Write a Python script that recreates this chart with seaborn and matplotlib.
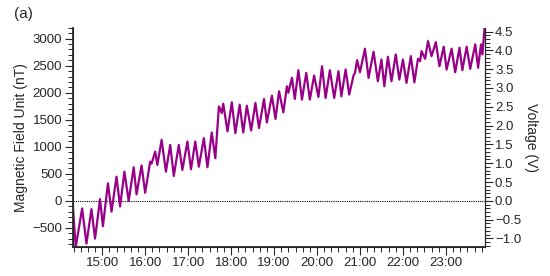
import numpy as np
import pandas as pd
import matplotlib
matplotlib.use("Agg")
import matplotlib.pyplot as plt
import matplotlib.dates as mdates
from matplotlib.ticker import MultipleLocator
import seaborn as sns

# ---- data (peaks / troughs) ----
times = ["14:19", "14:23", "14:32", "14:38", "14:45", "14:50", "14:57", "15:01", "15:08", "15:13",
         "15:20", "15:25", "15:31", "15:37", "15:44", "15:48", "15:55", "16:00", "16:07", "16:09",
         "16:14", "16:17", "16:23", "16:29", "16:35", "16:40", "16:47", "16:52", "16:59", "17:04",
         "17:10", "17:15", "17:22", "17:27", "17:33", "17:38", "17:43", "17:47", "17:49", "17:55",
         "18:01", "18:06", "18:12", "18:17", "18:22", "18:28", "18:34", "18:39", "18:46", "18:50",
         "18:57", "19:02", "19:07", "19:13", "19:18", "19:20", "19:25", "19:29", "19:34", "19:39",
         "19:45", "19:50", "19:56", "20:02", "20:07", "20:12", "20:18", "20:24", "20:30", "20:34",
         "20:40", "20:45", "20:51", "20:53", "20:56", "21:00", "21:07", "21:12", "21:19", "21:25",
         "21:30", "21:34", "21:39", "21:44", "21:50", "21:55", "22:00", "22:05", "22:11", "22:16",
         "22:21", "22:24", "22:26", "22:31", "22:35", "22:40", "22:46", "22:51", "22:57", "23:01",
         "23:08", "23:13", "23:19", "23:23", "23:29", "23:34", "23:41", "23:45", "23:49", "23:51",
         "23:54"]
field_nT = [-100, -855, -141, -792, -154, -699, 32, -470, 323, -200,
            446, -105, 540, 0, 620, 120, 655, 149, 725, 690,
            911, 664, 1128, 539, 1035, 460, 1035, 571, 1097, 583,
            1097, 632, 1160, 621, 1264, 788, 1747, 1625, 1797, 1283,
            1822, 1253, 1779, 1264, 1760, 1301, 1810, 1346, 1885, 1450,
            1946, 1515, 2026, 1636, 2119, 2000, 2275, 1885, 2416, 1872,
            2368, 1872, 2318, 1922, 2491, 1903, 2416, 1903, 2398, 1933,
            2430, 1965, 2318, 2368, 2602, 2379, 2814, 2275, 2760, 2212,
            2615, 2119, 2665, 2212, 2708, 2243, 2615, 2182, 2677, 2193,
            2628, 2584, 2770, 2628, 2955, 2677, 2937, 2491, 2851, 2429,
            2814, 2379, 2833, 2416, 2851, 2442, 2894, 2461, 2894, 2708,
            3200]

left_ticks = [-500, 0, 500, 1000, 1500, 2000, 2500, 3000]
right_ticks = [-1.0, -0.5, 0.0, 0.5, 1.0, 1.5, 2.0, 2.5, 3.0, 3.5, 4.0, 4.5]
nT_per_volt = 696.0

df = pd.DataFrame({
    "time": pd.to_datetime(["2000-01-01 " + t for t in times]),
    "field": field_nT,
})

sns.set_theme(style="ticks")
plt.rcParams["font.family"] = ["Liberation Sans", "DejaVu Sans"]

fig = plt.figure(figsize=(5.5, 2.76), dpi=100)
ax = fig.add_axes([0.132, 0.106, 0.749, 0.793])

sns.lineplot(data=df, x="time", y="field", ax=ax, color="#990088", linewidth=1.6)
for ln in ax.get_lines():
    ln.set_solid_joinstyle("round")
    ln.set_solid_capstyle("round")
ax.axhline(0, color="black", linestyle=(0, (1, 1)), linewidth=0.8, zorder=1)

ax.set_xlim(pd.Timestamp("2000-01-01 14:18:40"), pd.Timestamp("2000-01-01 23:54:00"))
ylo, yhi = -850, 3200
ax.set_ylim(ylo, yhi)
ax.set_yticks(left_ticks)
ax.yaxis.set_minor_locator(MultipleLocator(100))
ax.xaxis.set_major_locator(mdates.HourLocator())
ax.xaxis.set_major_formatter(mdates.DateFormatter("%H:%M"))
ax.xaxis.set_minor_locator(mdates.MinuteLocator(byminute=range(0, 60, 10)))

ax.set_xlabel("")
ax.set_ylabel("Magnetic Field Unit (nT)", fontsize=10, labelpad=3)
ax.tick_params(axis="both", which="major", labelsize=9.5, length=5.5, width=0.8, direction="out", pad=2)
ax.tick_params(axis="both", which="minor", length=3.5, width=0.7, direction="out")
ax.spines["top"].set_visible(False)
for s in ["left", "bottom", "right"]:
    ax.spines[s].set_linewidth(0.8)

ax2 = ax.twinx()
ax2.set_ylim(ylo / nT_per_volt, yhi / nT_per_volt)
ax2.set_yticks(right_ticks)
ax2.set_yticklabels([f"{v:.1f}".replace("-", "\u2212") for v in right_ticks])
ax2.yaxis.set_minor_locator(MultipleLocator(0.1))
ax2.tick_params(axis="y", which="major", labelsize=9.5, length=5.5, width=0.8, direction="out", pad=2)
ax2.tick_params(axis="y", which="minor", length=3.5, width=0.7, direction="out")
ax2.set_ylabel("Voltage (V)", fontsize=10, rotation=270, labelpad=12)
ax2.spines["top"].set_visible(False)
ax2.spines["right"].set_linewidth(0.8)

fig.text(0.025, 0.95, "(a)", fontsize=11, va="center", ha="left")

fig.savefig("out.png", dpi=100)
